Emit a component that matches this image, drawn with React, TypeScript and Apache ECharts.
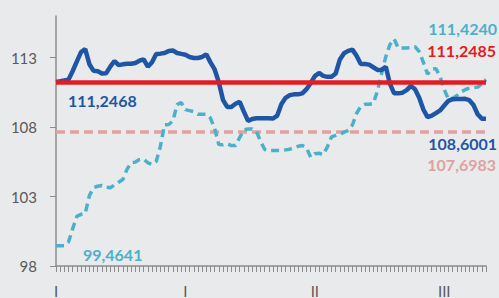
import React, { useEffect, useRef } from "react";
import * as echarts from "echarts";

// Daily index values (104 points)
const DARK_SERIES = [
  111.2468, 111.30, 111.36, 111.42, 112.04, 112.73, 113.40, 113.62, 112.53, 112.05,
  112.03, 111.86, 111.87, 112.36, 112.76, 112.46, 112.52, 112.56, 112.56, 112.62,
  112.78, 112.88, 112.35, 112.67, 113.26, 113.29, 113.33, 113.48, 113.51, 113.34,
  113.27, 113.21, 113.05, 112.98, 112.98, 113.05, 113.24, 112.66, 112.15, 111.23,
  109.96, 109.45, 109.45, 109.68, 109.82, 109.12, 108.45, 108.59, 108.64, 108.63,
  108.63, 108.63, 108.62, 108.83, 109.67, 110.11, 110.30, 110.36, 110.36, 110.43,
  110.73, 111.16, 111.67, 111.90, 111.69, 111.62, 111.62, 111.86, 112.87, 113.32,
  113.49, 113.58, 113.14, 112.55, 112.55, 112.50, 112.31, 112.12, 112.12, 112.35,
  111.11, 110.43, 110.43, 110.48, 110.66, 110.97, 110.72, 110.12, 109.27, 108.72,
  108.82, 109.01, 109.20, 109.55, 109.89, 110.01, 110.02, 110.03, 110.04, 109.94,
  109.59, 108.93, 108.61, 108.6001,
];

const LIGHT_SERIES = [
  99.4641, 99.46, 99.46, 99.73, 100.69, 101.58, 101.72, 101.78, 103.07, 103.64,
  103.74, 103.80, 103.67, 103.63, 103.83, 104.03, 104.23, 104.96, 105.43, 105.48,
  105.66, 105.70, 105.43, 105.31, 105.53, 106.61, 108.17, 108.19, 108.44, 109.62,
  109.77, 109.26, 109.19, 109.11, 108.93, 108.93, 108.93, 108.65, 107.90, 106.74,
  106.73, 106.80, 106.67, 106.67, 107.25, 107.80, 107.86, 107.86, 107.69, 106.98,
  106.39, 106.31, 106.31, 106.31, 106.31, 106.36, 106.41, 106.51, 106.62, 106.68,
  106.52, 105.83, 106.09, 106.12, 106.01, 106.58, 107.30, 107.40, 107.51, 107.63,
  107.76, 108.15, 108.99, 109.49, 109.64, 109.64, 109.70, 110.60, 111.87, 113.07,
  113.95, 114.35, 113.69, 113.69, 113.69, 113.74, 113.79, 113.44, 112.66, 111.81,
  112.17, 112.21, 111.64, 110.70, 110.01, 110.08, 110.26, 110.53, 110.69, 110.80,
  110.84, 110.88, 111.14, 111.4240,
];

const AVG_RED = 111.2485;
const AVG_PINK = 107.6983;

const X_TICK_LABELS = ["I", "I", "II", "III"];
const X_TICK_INDEX = [0, 31, 62, 93];
const Y_TICKS = [98, 103, 108, 113];
const Y_MIN = 98;
const Y_MAX = 116;

const CATEGORIES = DARK_SERIES.map((_, i) => "d" + i);

const C_DARK = "#1f55a5";
const C_LIGHT = "#4bb1ca";
const C_RED = "#e31b23";
const C_PINK = "#e0a19f";
const BG = "#e9eaec";
const FONT = "Lato, 'Open Sans', sans-serif";

const fmt = (v: number) => v.toFixed(4).replace(".", ",");

export default function App() {
  const ref = useRef<HTMLDivElement>(null);
  useEffect(() => {
    if (!ref.current) return;
    const chart = echarts.init(ref.current, undefined, { renderer: "svg" });
    const labelMap: Record<number, string> = {};
    X_TICK_INDEX.forEach((idx, k) => (labelMap[idx] = X_TICK_LABELS[k]));
    const N = DARK_SERIES.length;
    const txt = (text: string, x: number, y: number, color: string, align: string) => ({
      type: "text",
      x,
      y,
      silent: true,
      style: {
        text,
        fill: color,
        font: `bold 16px ${FONT}`,
        align,
        textAlign: align,
        verticalAlign: "middle",
        textVerticalAlign: "middle",
      },
    });
    chart.setOption({
      animation: false,
      backgroundColor: BG,
      grid: { left: 56, right: 13, top: 16, bottom: 30, containLabel: false },
      xAxis: {
        type: "category",
        data: CATEGORIES,
        boundaryGap: false,
        axisLine: { show: true, lineStyle: { color: "#8c8c8c", width: 1.5 } },
        axisTick: { show: true, interval: 0, length: 6, lineStyle: { color: "#8c8c8c", width: 1 } },
        axisLabel: {
          interval: 0,
          formatter: (_v: string, i: number) => labelMap[i] ?? "",
          color: "#595959",
          fontSize: 15,
          fontFamily: FONT,
          margin: 17,
        },
        splitLine: { show: false },
      },
      yAxis: {
        type: "value",
        min: Y_MIN,
        max: Y_MAX,
        interval: 5,
        axisLine: { show: true, lineStyle: { color: "#8c8c8c", width: 1.5 } },
        axisTick: { show: true, length: 6, customValues: Y_TICKS, lineStyle: { color: "#8c8c8c" } },
        axisLabel: {
          customValues: Y_TICKS,
          color: "#595959",
          fontSize: 15,
          fontFamily: FONT,
          margin: 19,
        },
        splitLine: { show: false },
      },
      series: [
        {
          type: "line",
          data: LIGHT_SERIES,
          symbol: "none",
          lineStyle: { color: C_LIGHT, width: 3.5, type: [8, 5] },
          z: 3,
          markLine: {
            silent: true,
            symbol: "none",
            label: { show: false },
            data: [
              { yAxis: AVG_PINK, lineStyle: { color: C_PINK, width: 3.5, type: [9, 5] } },
            ],
            z: 2,
          },
        },
        {
          type: "line",
          data: DARK_SERIES,
          symbol: "none",
          lineStyle: { color: C_DARK, width: 4.5 },
          z: 4,
          markLine: {
            silent: true,
            symbol: "none",
            label: { show: false },
            data: [{ yAxis: AVG_RED, lineStyle: { color: C_RED, width: 4.5, type: "solid" } }],
            z: 5,
          },
        },
      ],
      graphic: [
        txt(fmt(DARK_SERIES[0]), 68, 100, C_DARK, "left"),
        txt(fmt(LIGHT_SERIES[0]), 83, 254, C_LIGHT, "left"),
        txt(fmt(LIGHT_SERIES[N - 1]), 497, 28, C_LIGHT, "right"),
        txt(fmt(AVG_RED), 496, 50, C_RED, "right"),
        txt(fmt(DARK_SERIES[N - 1]), 497, 143, C_DARK, "right"),
        txt(fmt(AVG_PINK), 496, 164, C_PINK, "right"),
      ],
    });
    return () => chart.dispose();
  }, []);
  return (
    <div
      ref={ref}
      style={{ position: "fixed", left: 0, top: 0, width: 499, height: 298, background: BG }}
    />
  );
}
